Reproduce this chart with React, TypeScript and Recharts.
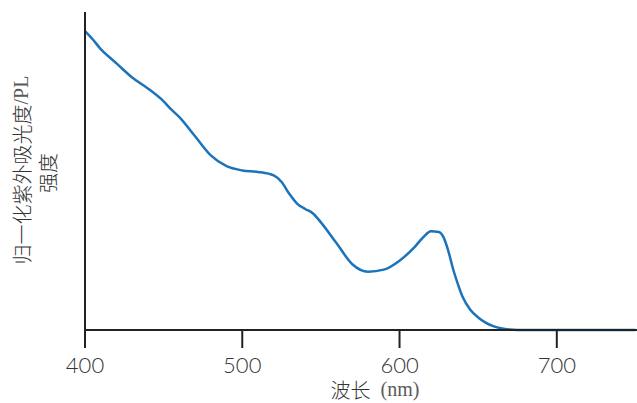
import React from 'react';
import { LineChart, Line, XAxis, YAxis, Label } from 'recharts';

// wavelength (nm) and normalised intensity
const wavelengths = [
  400, 405, 410, 415, 420, 430, 440, 450, 455, 460, 470, 480, 490, 500, 510, 520, 525,
  530, 535, 540, 545, 550, 560, 570, 580, 590, 600, 610, 615, 620, 625, 628, 631, 634,
  637, 640, 645, 650, 655, 660, 670, 680, 700, 750,
];
const intensity = [
  1.0, 0.972, 0.94, 0.915, 0.892, 0.845, 0.808, 0.765, 0.737, 0.712, 0.648, 0.584, 0.548,
  0.534, 0.529, 0.517, 0.495, 0.455, 0.422, 0.405, 0.39, 0.36, 0.29, 0.22, 0.195, 0.202,
  0.232, 0.28, 0.31, 0.33, 0.328, 0.31, 0.265, 0.205, 0.155, 0.112, 0.068, 0.042, 0.024,
  0.012, 0.002, 0, 0, 0,
];
const xTicks = [400, 500, 600, 700];

const data = wavelengths.map((w, i) => ({ w, v: intensity[i] }));

const axisColor = '#222';
const textColor = '#333';
const cjk = { fontFamily: '"Noto Sans CJK SC", sans-serif', fontWeight: 300 };
const latin = { fontFamily: '"Liberation Serif", serif', fontWeight: 'normal', fill: '#5a5a5a' };

const XLabel = () => (
  <text
    x={375}
    y={389}
    textAnchor="middle"
    dominantBaseline="central"
    fill={textColor}
    fontSize={20}
    style={{ whiteSpace: 'pre' }}
  >
    <tspan {...cjk}>{'波长'}</tspan>
    <tspan {...latin}>{'  (nm)'}</tspan>
  </text>
);

const YLabel = () => (
  <g fill={textColor} fontSize={20}>
    <text x={21} y={170} transform="rotate(-90 21 170)" textAnchor="middle" dominantBaseline="central">
      <tspan {...cjk}>归一化紫外吸光度</tspan>
      <tspan {...latin}>/PL</tspan>
    </text>
    <text x={47} y={173} transform="rotate(-90 47 173)" textAnchor="middle" dominantBaseline="central" {...cjk}>
      强度
    </text>
  </g>
);

const App: React.FC = () => {
  return (
    <div style={{ position: 'absolute', left: 0, top: 0, width: 637, height: 403, background: '#fff' }}>
      <LineChart width={637} height={403} data={data} margin={{ top: 12, right: 0, left: 0, bottom: 0 }}>
        <XAxis
          dataKey="w"
          type="number"
          domain={[400, 751]}
          ticks={xTicks}
          height={73}
          tickSize={18}
          tickMargin={9}
          axisLine={{ stroke: axisColor, strokeWidth: 2 }}
          tickLine={{ stroke: axisColor, strokeWidth: 2 }}
          tick={{ fill: textColor, fontSize: 22, fontFamily: 'Lato', fontWeight: 300 }}
        >
          <Label content={<XLabel />} />
        </XAxis>
        <YAxis
          type="number"
          domain={[0, 1.064]}
          width={85}
          tick={false}
          tickLine={false}
          axisLine={{ stroke: axisColor, strokeWidth: 2 }}
        >
          <Label content={<YLabel />} />
        </YAxis>
        <Line
          type="monotone"
          dataKey="v"
          stroke="#1a73bb"
          strokeWidth={2.5}
          dot={false}
          isAnimationActive={false}
        />
      </LineChart>
    </div>
  );
};

export default App;
